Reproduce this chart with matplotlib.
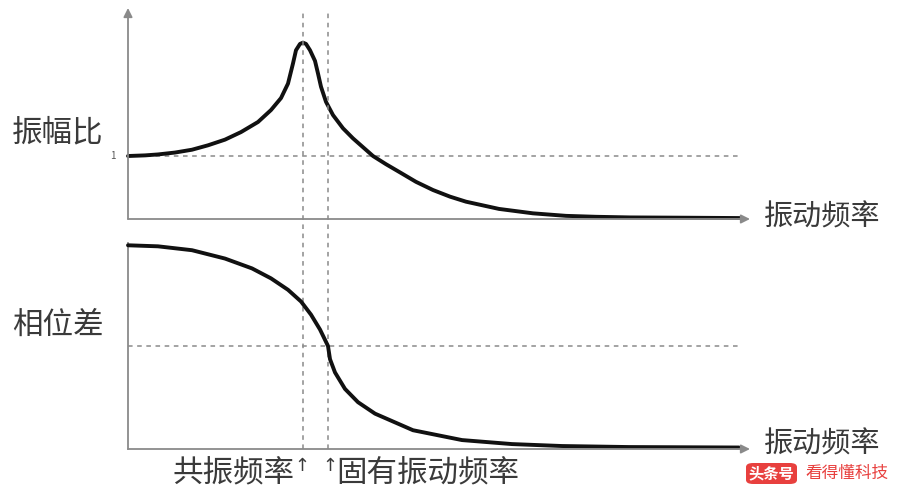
import matplotlib.pyplot as plt
from matplotlib.patches import FancyBboxPatch

plt.rcParams["font.family"] = ["Noto Sans CJK SC", "DejaVu Sans"]

# 频率（以固有频率为 1）与振幅比
freq_amp = [0.0, 0.085, 0.15, 0.235, 0.32, 0.40, 0.485, 0.565, 0.65, 0.715,
            0.765, 0.80, 0.825, 0.84, 0.86, 0.875, 0.89, 0.91, 0.935, 0.95,
            0.965, 0.99, 1.025, 1.075, 1.125, 1.175, 1.225, 1.29, 1.36, 1.44,
            1.525, 1.61, 1.69, 1.855, 2.025, 2.19, 2.34, 2.51, 2.81, 3.06]
amp_ratio = [1.0, 1.01, 1.025, 1.055, 1.10, 1.17, 1.26, 1.38, 1.54, 1.73,
             1.92, 2.15, 2.47, 2.68, 2.78, 2.80, 2.78, 2.68, 2.51, 2.31,
             2.10, 1.86, 1.65, 1.44, 1.28, 1.14, 1.0, 0.87, 0.74, 0.59,
             0.46, 0.355, 0.275, 0.16, 0.09, 0.05, 0.035, 0.025, 0.02, 0.015]

# 频率与相位差（度）
freq_phase = [0.0, 0.15, 0.32, 0.485, 0.62, 0.715, 0.80, 0.865, 0.915, 0.96,
              1.0, 1.01, 1.035, 1.085, 1.15, 1.235, 1.425, 1.67, 1.92, 2.17,
              2.505, 3.055]
phase_deg = [178, 177.1, 173.7, 166.4, 157.8, 149.1, 139.1, 128.9, 117.4, 104.4,
             90, 78.5, 66.9, 52.5, 40.9, 30.9, 16.4, 7.8, 4.3, 2.6,
             1.7, 1.3]

f_res = 0.875
f_nat = 1.0
x_end = 3.06

AXIS_C = "#8a8a8a"
TEXT_C = "#3a3a3a"
DASH_C = "#8a8a8a"
RED = "#e8403e"

fig = plt.figure(figsize=(9, 5), dpi=100)
fig.patch.set_facecolor("white")

ax1 = fig.add_axes([128 / 900, 1 - 219 / 500, 622 / 900, 211 / 500])
ax2 = fig.add_axes([128 / 900, 1 - 449 / 500, 622 / 900, 206 / 500])

ax1.set_xlim(0, 3.11)
ax1.set_ylim(0, 3.35)
ax2.set_xlim(0, 3.11)
ax2.set_ylim(0, 180)

for ax in (ax1, ax2):
    ax.axis("off")

# 坐标轴
arrow = dict(arrowstyle="-|>", color=AXIS_C, lw=1.3, mutation_scale=13, shrinkA=0, shrinkB=0)
ax1.annotate("", xy=(0, 3.35), xytext=(0, 0), arrowprops=arrow, annotation_clip=False)
ax1.annotate("", xy=(3.11, 0), xytext=(0, 0), arrowprops=arrow, annotation_clip=False)
ax2.plot([0, 0], [0, 180], color=AXIS_C, lw=1.3, clip_on=False)
ax2.annotate("", xy=(3.11, 0), xytext=(0, 0), arrowprops=arrow, annotation_clip=False)

# 虚线
ax1.plot([0, x_end], [1, 1], ls=(0, (3, 3)), color=DASH_C, lw=1.1)
ax2.plot([0, x_end], [90, 90], ls=(0, (3, 3)), color=DASH_C, lw=1.1)
for fx in (f_res, f_nat):
    ax2.axvline(fx, ymin=0, ymax=(449 - 13) / 206, ls=(0, (3, 3)),
                color=DASH_C, lw=1.1, clip_on=False)

# 曲线
ax1.plot(freq_amp, amp_ratio, color="#111111", lw=2.8, solid_capstyle="round",
         solid_joinstyle="round", clip_on=False)
ax2.plot(freq_phase, phase_deg, color="#111111", lw=2.8, solid_capstyle="round",
         solid_joinstyle="round", clip_on=False)

# 文本
fig.text(12 / 900, 1 - 133 / 500, "振幅比", fontsize=22, color=TEXT_C, va="center", ha="left")
fig.text(12 / 900, 1 - 325 / 500, "相位差", fontsize=22, color=TEXT_C, va="center", ha="left")
ax1.text(-0.06, 1, "1", fontsize=7, color="#555555", ha="right", va="center")
fig.text(764 / 900, 1 - 218 / 500, "振动频率", fontsize=21, color=TEXT_C, va="center", ha="left")
fig.text(764 / 900, 1 - 445 / 500, "振动频率", fontsize=21, color=TEXT_C, va="center", ha="left")
ax2.text(f_res - 0.04, -22, "共振频率", fontsize=22, color=TEXT_C, ha="right", va="center")
ax2.text(f_nat + 0.04, -22, "固有振动频率", fontsize=22, color=TEXT_C, ha="left", va="center")
for fx in (f_res - 0.005, f_nat + 0.01):
    ax2.text(fx, -15, "↑", fontsize=13, color=TEXT_C, ha="center", va="center",
             family="DejaVu Sans")

# 水印
box = FancyBboxPatch((746 / 900, 1 - 484 / 500), 51 / 900, 21 / 500,
                     boxstyle="round,pad=0,rounding_size=0.008",
                     transform=fig.transFigure, facecolor=RED, edgecolor="none")
fig.patches.append(box)
fig.text(771 / 900, 1 - 473 / 500, "头条号", fontsize=11, color="white",
         fontweight="bold", ha="center", va="center")
fig.text(805 / 900, 1 - 473 / 500, "看得懂科技", fontsize=12, color=RED,
         ha="left", va="center")

fig.savefig("out.png", dpi=100)
